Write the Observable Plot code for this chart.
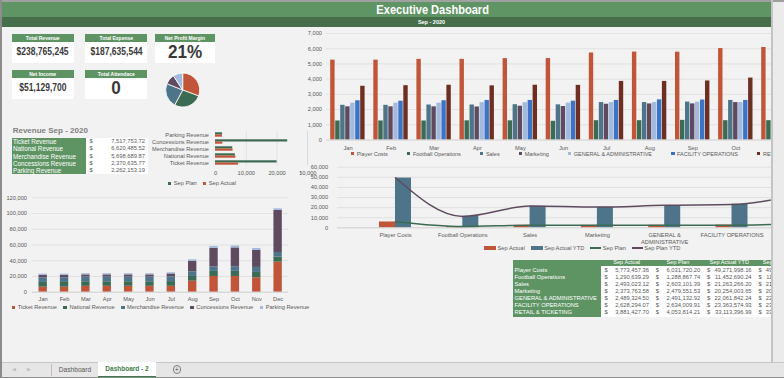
<!DOCTYPE html>
<html><head><meta charset="utf-8">
<script src="https://cdn.jsdelivr.net/npm/d3@7"></script>
<script src="https://cdn.jsdelivr.net/npm/@observablehq/plot@0.6"></script>
<style>
html,body{margin:0;padding:0}
body{width:784px;height:378px;overflow:hidden;background:#f2f2f2;position:relative;font-family:"Liberation Sans",Arial,sans-serif;color:#595959}
.a{position:absolute;box-sizing:border-box;white-space:nowrap}
.clip{position:absolute;overflow:hidden}
.clip svg{position:absolute;display:block;max-width:none !important}
.lg{position:absolute;display:flex;align-items:center;font-size:5.7px;color:#595959;white-space:nowrap;height:8px}
.lg .i{display:flex;align-items:center}
</style></head><body>
<script>
// ---------------- DATA ----------------
const months = ["Jan","Feb","Mar","Apr","May","Jun","Jul","Aug","Sep","Oct","Nov","Dec"];
const expenseCats = ["Player Costs","Football Operations","Sales","Marketing","GENERAL & ADMINISTRATIVE","FACILITY OPERATIONS","RETAIL & TICKETING"];
const playerCosts     = [5250,5250,5300,5300,5350,5350,5720,5780,5773,6010,6080,6100];
const footballOps     = [1250,1250,1250,1260,1260,1230,1270,1270,1291,1270,1270,1270];
const sales           = [2280,2280,2300,2300,2320,2310,2460,2460,2493,2600,2600,2600];
const marketing       = [2180,2180,2180,2170,2220,2200,2350,2370,2374,2460,2460,2460];
const genAdmin        = [2420,2420,2420,2450,2450,2420,2460,2460,2489,2460,2460,2460];
const facilityOps     = [2580,2550,2580,2600,2600,2550,2600,2640,2628,2600,2600,2600];
const retailTicketing = [3530,3570,3600,3560,3600,3590,3850,3850,3881,4070,4100,4100];
const topTicks = [0,1000,2000,3000,4000,5000,6000,7000];

const revenueCats = ["Ticket Revenue","National Revenue","Merchandise Revenue","Concessions Revenue","Parking Revenue"];
const revenueSepActual = [7517753.72, 6620485.52, 5698689.87, 2370635.77, 2262153.19];
const revenuePlanK   = [20000, 6450, 5600, 23450, 2300];
const revenueActualK = [7518, 6620, 5699, 2371, 2262];
const hbarTicks = [0,10000,20000,30000];

const ticketRev  = [6400,6400,7500,7500,7500,7500,7500,14000,20000,20000,18300,38200];
const nationalRev= [6000,6000,5800,5800,5800,5800,6000,6000,6450,6500,6800,6300];
const merchRev   = [5900,5900,5900,5900,5900,5900,6000,5900,5700,5800,6400,6000];
const concRev    = [3200,3200,2800,2800,2800,2800,3700,13200,23600,24000,21600,53400];
const parkingRev = [1500,1500,1500,1500,1500,1500,1500,2100,2300,2500,2500,2100];
const stackTicks = [0,20000,40000,60000,80000,100000,120000];

const lineCats = ["Player Costs","Football Operations","Sales","Marketing","GENERAL & ADMINISTRATIVE","FACILITY OPERATIONS","RETAIL & TICKETING"];
const sepActual    = [5773457.36, 1290639.29, 2493023.12, 2373763.58, 2489324.50, 2628294.07, 3881427.70];
const sepPlan      = [6031720.20, 1288867.74, 2603101.39, 2479551.53, 2491132.92, 2634009.91, 4053814.21];
const sepActualYTD = [49271998.16, 11452690.24, 21263266.20, 20254003.65, 22061842.24, 23363574.93, 33113396.99];
const sepPlanYTD   = [49600000.00, 11300000.00, 21500000.00, 20500000.00, 22300000.00, 23000000.00, 33500000.00];
const lineTicks = [0,10000,20000,30000,40000,50000,60000];
const tableHeaders = ["Sep Actual","Sep Plan","Sep Actual YTD","Sep Plan YTD"];

const kpiLabels = ["Total Revenue","Total Expense","Net Profit Margin","Net Income","Total Attendace"];
const kpiValues = ["$238,765,245","$187,635,544","21%","$51,129,700","0"];

// ---------------- STYLE ----------------
const C = {orange:"#c0553a", dgreen:"#3b6b52", bgray:"#4e7489", purple:"#5e4b5f", lblue:"#a3b9dd", blue:"#3b73c6", brown:"#6e2e22"};
const expenseColors = [C.orange, C.dgreen, C.bgray, C.purple, C.lblue, C.blue, C.brown];
const revenueColors = [C.orange, C.dgreen, C.bgray, C.purple, C.lblue];
const GREEN = "#5e9463";
const fmt = d3.format(",");
const money = d3.format(",.2f");
const baseStyle = {background:"transparent", fontFamily:"Liberation Sans, Arial, sans-serif", fontSize:"5.7px", color:"#595959", overflow:"visible", maxWidth:"none"};
const gridStyle = {stroke:"#dadada", strokeWidth:0.7};

function el(css, text, parent) {
  const e = document.createElement("div");
  e.className = "a"; e.style.cssText = css;
  if (text != null) e.textContent = text;
  (parent || document.body).appendChild(e);
  return e;
}
function clip(left, top, width, height) {
  const c = document.createElement("div"); c.className = "clip";
  c.style.cssText = `left:${left}px;top:${top}px;width:${width}px;height:${height}px`;
  document.body.appendChild(c); return c;
}
function place(parent, svg, left, top) { svg.style.left = left + "px"; svg.style.top = top + "px"; parent.appendChild(svg); }
function legend(parent, left, cy, items, gap, fontSize) {
  const d = document.createElement("div"); d.className = "lg";
  d.style.left = left + "px"; d.style.top = (cy - 4) + "px"; d.style.gap = gap + "px";
  if (fontSize) d.style.fontSize = fontSize + "px";
  for (const it of items) {
    const s = document.createElement("span"); s.className = "i";
    const m = document.createElement("span");
    const w = it.kind === "square" ? 3.5 : it.kind === "bar" ? 12 : 11;
    const h = it.kind === "square" ? 3.5 : it.kind === "bar" ? 3.3 : 1.4;
    m.style.cssText = `display:inline-block;width:${w}px;height:${h}px;background:${it.color};margin-right:${it.kind==="square"?2.5:1.5}px`;
    s.appendChild(m); s.appendChild(document.createTextNode(it.label));
    d.appendChild(s);
  }
  parent.appendChild(d);
}

// ---------------- FRAME ----------------
el("left:0;top:0;width:784px;height:2px;background:#a0a0a0");
el("left:2px;top:2px;width:769px;height:15px;background:#5f9464");
el("left:2px;top:17px;width:769px;height:10px;background:#466e4b");
el("left:300px;top:2px;width:266px;height:15px;line-height:15px;text-align:center;color:#fff;font-weight:bold;font-size:13.5px").innerHTML =
  '<span style="display:inline-block;transform:scaleX(0.82)">Executive Dashboard</span>';
el("left:300px;top:17px;width:263px;height:10px;line-height:10px;text-align:center;color:#fff;font-weight:bold;font-size:5.5px", "Sep - 2020");
el("left:0;top:0;width:2px;height:378px;background:#8c8c8c");
el("left:771px;top:0;width:2px;height:362px;background:#c4c4c4");
el("left:773px;top:2px;width:11px;height:360px;background:#ebebeb");

// tabs
el("left:2px;top:362px;width:782px;height:16px;background:#e6e6e6;border-top:1px solid #c6c6c6");
el("left:0;top:377px;width:784px;height:1px;background:#8c8c8c");
el("left:12px;top:363px;width:8px;height:13px;line-height:13px;font-size:5px;color:#c0c0c0", "\u25C0");
el("left:27px;top:363px;width:8px;height:13px;line-height:13px;font-size:5px;color:#c0c0c0", "\u25B6");
el("left:51px;top:364px;width:1px;height:12px;background:#bdbdbd");
el("left:52px;top:362px;width:46px;height:15px;line-height:15px;text-align:center;font-size:6.6px;color:#595959", "Dashboard");
el("left:98px;top:362px;width:58px;height:15px;background:#fff;line-height:14px;text-align:center;font-size:6.5px;font-weight:bold;color:#3e7b4a;border-bottom:1.5px solid #3e7b4a", "Dashboard - 2");
el("left:172.5px;top:365px;width:8.5px;height:8.5px;border:0.8px solid #7f7f7f;border-radius:50%;font-size:7px;line-height:7px;text-align:center;color:#595959", "+");

// ---------------- KPI CARDS ----------------
const kpiPos = [[11.7,34.3,62],[85.3,34.3,62],[155,34.3,59.7],[11.7,70.3,62],[85.3,70.3,62]];
kpiLabels.forEach((lab, i) => {
  const [x, y, w] = kpiPos[i];
  el(`left:${x}px;top:${y}px;width:${w}px;height:8px;background:${GREEN};color:#fff;font-weight:bold;font-size:5px;line-height:8px;text-align:center`, lab);
  const big = kpiValues[i].length <= 3;
  el(`left:${x}px;top:${y+8}px;width:${w}px;height:20.7px;background:#fff;color:#3a3a3a;font-weight:bold;text-align:center;line-height:20.7px;font-size:${big?18:10}px`).innerHTML =
    `<span style="display:inline-block;transform:scaleX(${big?0.95:0.85})">${kpiValues[i]}</span>`;
});

// pie
const pieMark = () => {
  const g = d3.create("svg:g").attr("transform", "translate(22.7,22)");
  const arcs = d3.pie().sort(null)(revenueSepActual);
  const arc = d3.arc().innerRadius(0).outerRadius(17);
  g.selectAll("path").data(arcs).join("path").attr("d", arc)
    .attr("fill", (d, i) => revenueColors[i]).attr("stroke", "#fff").attr("stroke-width", 0.8);
  return g.node();
};
const pieSvg = Plot.plot({width: 46, height: 46, margin: 0, style: baseStyle, marks: [pieMark]});
place(clip(160, 68, 46, 46), pieSvg, 0, 0);

// ---------------- REVENUE TABLE ----------------
el("left:12.7px;top:126px;height:9px;line-height:9px;font-size:8px;font-weight:bold;color:#7f7f7f", "Revenue Sep - 2020");
el(`left:11.7px;top:138.3px;width:74px;height:35.5px;background:${GREEN}`);
el(`left:85.7px;top:138.3px;width:62px;height:35.5px;background:#fff`);
revenueCats.forEach((c, i) => {
  const y = 138.3 + i * 7.1;
  el(`left:13px;top:${y}px;height:7.1px;line-height:7.1px;font-size:6.3px;color:#fff`, c);
  el(`left:89.5px;top:${y}px;height:7.1px;line-height:7.1px;font-size:5.8px;color:#595959`, "$");
  el(`left:95px;top:${y}px;width:50px;height:7.1px;line-height:7.1px;font-size:5.8px;color:#595959;text-align:right`, money(revenueSepActual[i]));
});

// ---------------- HBAR (Plan vs Actual) ----------------
const hbarRows = revenueCats.map((c, i) => ({cat: c, plan: revenuePlanK[i], actual: revenueActualK[i]}));
const hbarSvg = Plot.plot({
  width: 157.4, height: 50, marginLeft: 65, marginRight: 0, marginTop: 3, marginBottom: 12,
  style: baseStyle,
  x: {domain: [0, 30000], ticks: hbarTicks, tickFormat: fmt, tickSize: 0, tickPadding: 4.3, label: null},
  y: {type: "band", domain: revenueCats.slice().reverse(), padding: 0, tickSize: 0, tickPadding: 6.5, label: null},
  marks: [
    Plot.ruleX(hbarTicks.slice(1), gridStyle),
    Plot.barX(hbarRows, {y: "cat", x: "plan", fill: C.dgreen, insetTop: 1.3, insetBottom: 3.5}),
    Plot.barX(hbarRows, {y: "cat", x: "actual", fill: C.orange, insetTop: 3.5, insetBottom: 1.3})
  ]
});
const hbarClip = clip(150, 128, 151, 62);
place(hbarClip, hbarSvg, 0, 0);
legend(document.body, 167.7, 183.3, [{label: "Sep Plan", color: C.dgreen, kind: "square"}, {label: "Sep Actual", color: C.orange, kind: "square"}], 6);

// ---------------- TOP CLUSTERED BARS ----------------
const expenseByMonth = [playerCosts, footballOps, sales, marketing, genAdmin, facilityOps, retailTicketing];
const topRows = months.flatMap((m, i) => expenseCats.map((c, j) => ({month: m, cat: c, value: expenseByMonth[j][i]})));
const topStep = 43.1, barW = 4.4;
const topSvg = Plot.plot({
  width: 554, height: 127.5, marginLeft: 36, marginRight: 0.8, marginTop: 8, marginBottom: 13,
  style: baseStyle,
  x: {type: "band", domain: months, padding: 0, round: false, tickSize: 0, tickPadding: 5.7, label: null},
  y: {domain: [0, 7000], ticks: topTicks, tickFormat: fmt, tickSize: 0, tickPadding: 4.5, label: null},
  marks: [
    Plot.ruleY(topTicks.slice(1), gridStyle),
    ...expenseCats.map((c, j) => {
      const L = 4.2 + j * 5;
      return Plot.barY(topRows.filter(d => d.cat === c), {x: "month", y: "value", fill: expenseColors[j], insetLeft: L, insetRight: topStep - L - barW});
    }),
    Plot.ruleY([0], {stroke: "#c8c8c8", strokeWidth: 0.8})
  ]
});
const topClip = clip(290, 25, 481, 140);
place(topClip, topSvg, 0, 0);
legend(topClip, 60.7, 128.5, expenseCats.map((c, j) => ({label: c, color: expenseColors[j], kind: "square"})), 19, 5.5);

// ghost elements from a hidden chart
el("left:307px;top:131px;width:0.8px;height:34px;background:#d9d9d9");
const ghost = clip(300, 169, 17, 8);
el("right:0.5px;top:0;height:8px;line-height:8px;font-size:5.7px;color:#595959", "50,000", ghost);

// ---------------- STACKED REVENUE ----------------
const revenueByMonth = [ticketRev, nationalRev, merchRev, concRev, parkingRev];
const stackRows = months.flatMap((m, i) => revenueCats.map((c, j) => ({month: m, cat: c, value: revenueByMonth[j][i]})));
const stackSvg = Plot.plot({
  width: 289, height: 112, marginLeft: 32, marginRight: 0.7, marginTop: 7.3, marginBottom: 10.3,
  style: baseStyle,
  x: {type: "band", domain: months, padding: 0, round: false, tickSize: 0, tickPadding: 5, label: null},
  y: {domain: [0, 120000], ticks: stackTicks, tickFormat: fmt, tickSize: 0, tickPadding: 5.5, label: null},
  color: {domain: revenueCats, range: revenueColors},
  marks: [
    Plot.ruleY(stackTicks.slice(1), gridStyle),
    Plot.barY(stackRows, {x: "month", y: "value", fill: "cat", insetLeft: 6.5, insetRight: 6.5}),
    Plot.ruleY([0], {stroke: "#c8c8c8", strokeWidth: 0.8})
  ]
});
place(clip(0, 190, 295, 125), stackSvg, 0, 0);
legend(document.body, 11.7, 307.3, revenueCats.map((c, j) => ({label: c, color: revenueColors[j], kind: "square"})), 6.4);

// ---------------- COMBO (bars + lines) ----------------
const lineRows = lineCats.map((c, i) => ({cat: c, actual: sepActual[i] / 1000, actualYTD: sepActualYTD[i] / 1000, plan: sepPlan[i] / 1000, planYTD: sepPlanYTD[i] / 1000}));
const lStep = 67.3, lStart = 61.35, half = lStep / 2, lBar = 16;
const lineSvg = Plot.plot({
  width: 540, height: 82, marginLeft: 37, marginRight: 0, marginTop: 6.7, marginBottom: 14.7,
  style: baseStyle,
  x: {type: "band", domain: lineCats, range: [lStart, lStart + lineCats.length * lStep], padding: 0, round: false, axis: null},
  y: {domain: [0, 60000], ticks: lineTicks, tickFormat: fmt, tickSize: 0, tickPadding: 9.3, label: null},
  marks: [
    Plot.ruleY(lineTicks.slice(1), gridStyle),
    Plot.barY(lineRows, {x: "cat", y: "actual", fill: C.orange, insetLeft: half - lBar, insetRight: half}),
    Plot.barY(lineRows, {x: "cat", y: "actualYTD", fill: C.bgray, insetLeft: half, insetRight: half - lBar}),
    Plot.ruleY([0], {stroke: "#c8c8c8", strokeWidth: 0.8}),
    Plot.line(lineRows, {x: "cat", y: "plan", stroke: C.dgreen, strokeWidth: 1.5, curve: "monotone-x"}),
    Plot.line(lineRows, {x: "cat", y: "planYTD", stroke: C.purple, strokeWidth: 1.5, curve: "monotone-x"}),
    Plot.text(lineRows, {x: "cat", text: "cat", frameAnchor: "bottom", lineAnchor: "top", dy: 5, fontSize: 5.7, fill: "#595959", lineWidth: 11.8, lineHeight: 1.1})
  ]
});
const lineClip = clip(300, 160, 471, 95);
place(lineClip, lineSvg, 0, 0);
legend(document.body, 484, 248, [
  {label: "Sep Actual", color: C.orange, kind: "bar"},
  {label: "Sep Actual YTD", color: C.bgray, kind: "bar"},
  {label: "Sep Plan", color: C.dgreen, kind: "line"},
  {label: "Sep Plan YTD", color: C.purple, kind: "line"}], 6);

// ---------------- BOTTOM RIGHT TABLE ----------------
const tClip = clip(500, 255, 271, 66);
const tCols = [sepActual, sepPlan, sepActualYTD, sepPlanYTD];
el(`left:12.7px;top:5px;width:88.3px;height:56.7px;background:${GREEN}`, null, tClip);
el(`left:101px;top:5px;width:180px;height:5.7px;background:${GREEN}`, null, tClip);
el(`left:101px;top:10.7px;width:180px;height:51px;background:#fff`, null, tClip);
lineCats.forEach((c, i) => {
  el(`left:14.5px;top:${12.2 + i * 7}px;height:7px;line-height:7px;font-size:5.8px;color:#fff`, c, tClip);
});
tableHeaders.forEach((h, k) => {
  const x0 = 101 + k * 51.3;
  el(`left:${x0}px;top:5px;width:51.3px;height:5.7px;line-height:5.9px;font-size:5.6px;color:#fff;text-align:center`, h, tClip);
  tCols[k].forEach((v, i) => {
    el(`left:${x0 + 3.5}px;top:${12.2 + i * 7}px;height:7px;line-height:7px;font-size:5.8px;color:#595959`, "$", tClip);
    el(`left:${x0 + 6}px;top:${12.2 + i * 7}px;width:42px;height:7px;line-height:7px;font-size:5.8px;color:#595959;text-align:right`, money(v), tClip);
  });
});
</script></body></html>
